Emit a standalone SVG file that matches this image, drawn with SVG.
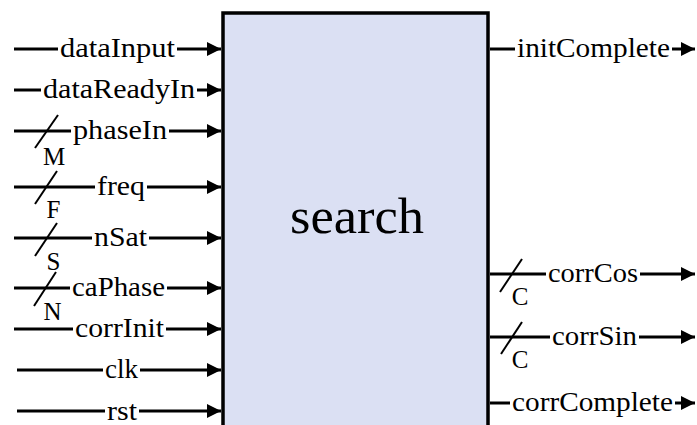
<svg xmlns="http://www.w3.org/2000/svg" width="697" height="425" viewBox="0 0 697 425">
<defs>
<style>
.w{stroke:#000;stroke-width:3;fill:none}
.s{stroke:#000;stroke-width:2;fill:none}
.t{font-family:"Liberation Serif","DejaVu Serif",serif;font-size:27px;fill:#000}
.b{font-family:"Liberation Serif","DejaVu Serif",serif;font-size:25px;fill:#000;text-anchor:middle}
</style>
<marker id="ah" markerUnits="userSpaceOnUse" markerWidth="14" markerHeight="14" refX="14" refY="7" orient="auto">
<path d="M0,0 L14,7 L0,14 Z" fill="#000"/>
</marker>
</defs>
<rect width="697" height="425" fill="#fff"/>
<g id="search">
<rect x="223" y="13" width="265" height="430" fill="#dbe0f3" stroke="#000" stroke-width="3.5"/>
<text x="290" y="233" class="t" style="font-size:50px" textLength="134" lengthAdjust="spacingAndGlyphs">search</text>
</g>
<g id="connectors">
<line class="w" x1="14" y1="49" x2="58" y2="49"/><line class="w" x1="177" y1="49" x2="221" y2="49" marker-end="url(#ah)"/>
<line class="w" x1="14" y1="90" x2="41" y2="90"/><line class="w" x1="197" y1="90" x2="221" y2="90" marker-end="url(#ah)"/>
<line class="w" x1="14" y1="131" x2="71" y2="131"/><line class="w" x1="169" y1="131" x2="221" y2="131" marker-end="url(#ah)"/>
<line class="w" x1="14" y1="187" x2="95" y2="187"/><line class="w" x1="147" y1="187" x2="221" y2="187" marker-end="url(#ah)"/>
<line class="w" x1="14" y1="238" x2="92" y2="238"/><line class="w" x1="149" y1="238" x2="221" y2="238" marker-end="url(#ah)"/>
<line class="w" x1="14" y1="288" x2="70" y2="288"/><line class="w" x1="167" y1="288" x2="221" y2="288" marker-end="url(#ah)"/>
<line class="w" x1="14" y1="329" x2="73" y2="329"/><line class="w" x1="166" y1="329" x2="221" y2="329" marker-end="url(#ah)"/>
<line class="w" x1="17" y1="370" x2="103" y2="370"/><line class="w" x1="140" y1="370" x2="221" y2="370" marker-end="url(#ah)"/>
<line class="w" x1="17" y1="411" x2="105" y2="411"/><line class="w" x1="139" y1="411" x2="221" y2="411" marker-end="url(#ah)"/>
<line class="w" x1="490" y1="49" x2="515" y2="49"/><line class="w" x1="672" y1="49" x2="695" y2="49" marker-end="url(#ah)"/>
<line class="w" x1="490" y1="274" x2="546" y2="274"/><line class="w" x1="640" y1="274" x2="695" y2="274" marker-end="url(#ah)"/>
<line class="w" x1="490" y1="337" x2="550" y2="337"/><line class="w" x1="639" y1="337" x2="695" y2="337" marker-end="url(#ah)"/>
<line class="w" x1="490" y1="403" x2="510" y2="403"/><line class="w" x1="675" y1="403" x2="695" y2="403" marker-end="url(#ah)"/>
<line class="s" x1="35" y1="148" x2="58" y2="115"/>
<line class="s" x1="35" y1="204" x2="57" y2="171"/>
<line class="s" x1="35" y1="256" x2="57" y2="223"/>
<line class="s" x1="34" y1="306" x2="56" y2="272"/>
<line class="s" x1="500" y1="292" x2="522" y2="259"/>
<line class="s" x1="501" y1="354" x2="522" y2="322"/>
</g>
<g id="labels">
<text class="t" x="60" y="57" textLength="115" lengthAdjust="spacingAndGlyphs">dataInput</text>
<text class="t" x="43" y="98" textLength="152" lengthAdjust="spacingAndGlyphs">dataReadyIn</text>
<text class="t" x="73" y="139" textLength="94" lengthAdjust="spacingAndGlyphs">phaseIn</text>
<text class="t" x="97" y="195" textLength="48" lengthAdjust="spacingAndGlyphs">freq</text>
<text class="t" x="94" y="246" textLength="53" lengthAdjust="spacingAndGlyphs">nSat</text>
<text class="t" x="72" y="296" textLength="93" lengthAdjust="spacingAndGlyphs">caPhase</text>
<text class="t" x="75" y="337" textLength="89" lengthAdjust="spacingAndGlyphs">corrInit</text>
<text class="t" x="105" y="378" textLength="33" lengthAdjust="spacingAndGlyphs">clk</text>
<text class="t" x="107" y="420" textLength="30" lengthAdjust="spacingAndGlyphs">rst</text>
<text class="t" x="517" y="57" textLength="153" lengthAdjust="spacingAndGlyphs">initComplete</text>
<text class="t" x="548" y="282" textLength="90" lengthAdjust="spacingAndGlyphs">corrCos</text>
<text class="t" x="552" y="345" textLength="85" lengthAdjust="spacingAndGlyphs">corrSin</text>
<text class="t" x="512" y="411" textLength="161" lengthAdjust="spacingAndGlyphs">corrComplete</text>
<text class="b" x="54" y="165">M</text>
<text class="b" x="53.5" y="218">F</text>
<text class="b" x="53.5" y="270">S</text>
<text class="b" x="52.5" y="320">N</text>
<text class="b" x="520" y="305">C</text>
<text class="b" x="520" y="368">C</text>
</g>
</svg>
